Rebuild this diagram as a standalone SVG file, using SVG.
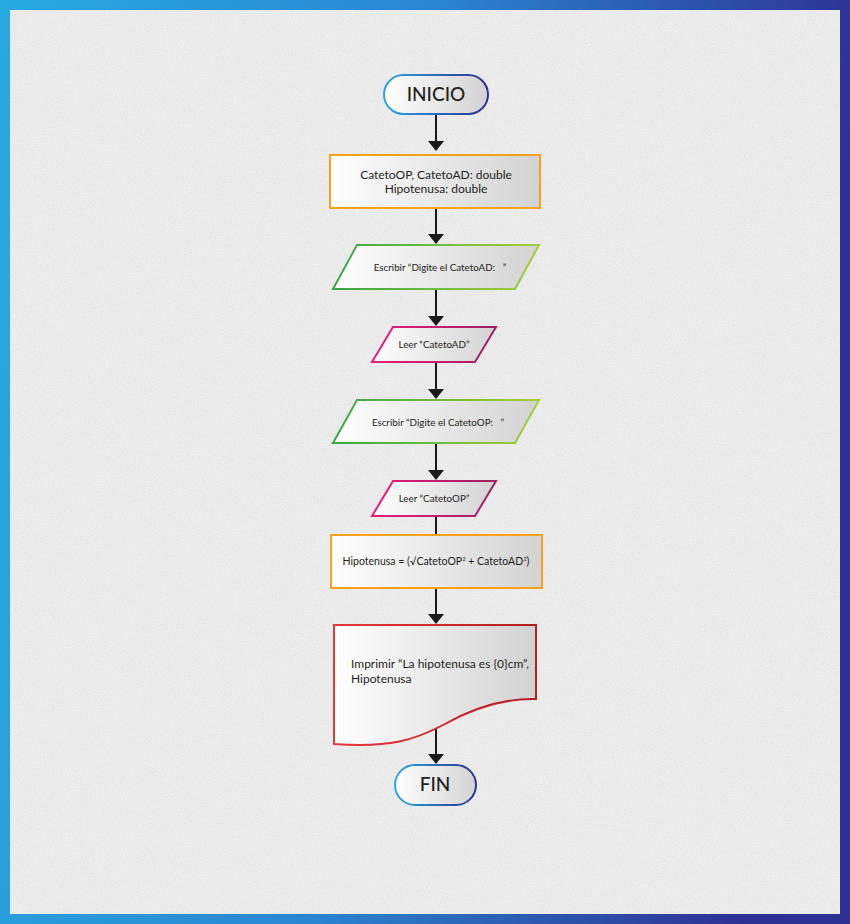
<svg xmlns="http://www.w3.org/2000/svg" width="850" height="924" viewBox="0 0 850 924">
<defs>
<linearGradient id="frame" x1="0" y1="0" x2="1" y2="0.15">
<stop offset="0" stop-color="#27aae1"/><stop offset="0.5" stop-color="#2a86cf"/><stop offset="1" stop-color="#2e3192"/>
</linearGradient>
<linearGradient id="fillg" x1="0" y1="0" x2="1" y2="0">
<stop offset="0" stop-color="#ffffff"/><stop offset="1" stop-color="#d3d3d3"/>
</linearGradient>
<linearGradient id="blueS" x1="0" y1="0" x2="1" y2="0">
<stop offset="0" stop-color="#29a9e1"/><stop offset="1" stop-color="#2e3192"/>
</linearGradient>
<linearGradient id="greenS" x1="0" y1="0" x2="1" y2="0">
<stop offset="0" stop-color="#39a844"/><stop offset="1" stop-color="#a6ce39"/>
</linearGradient>
<linearGradient id="pinkS" x1="0" y1="0" x2="1" y2="0">
<stop offset="0" stop-color="#ec1c7b"/><stop offset="1" stop-color="#9e1f63"/>
</linearGradient>
<linearGradient id="redS" x1="0" y1="0" x2="1" y2="0">
<stop offset="0" stop-color="#e8373c"/><stop offset="1" stop-color="#b41f24"/>
</linearGradient>
<filter id="noise" x="0" y="0" width="100%" height="100%">
<feTurbulence type="fractalNoise" baseFrequency="0.9" numOctaves="2" seed="3" result="t"/>
<feColorMatrix type="matrix" values="0 0 0 0 0.5  0 0 0 0 0.5  0 0 0 0 0.5  0 0 0 -1.6 1.05"/>
</filter>
<style>
.lbl{font-family:Lato,"Open Sans","Liberation Sans",sans-serif;fill:#231f20;text-anchor:middle;white-space:pre}
.big{font-size:19px;font-weight:500}
.mid{font-size:12px}
.sm{font-size:9.8px}
.conn line{stroke:#1a1a1a;stroke-width:2}
.conn path{fill:#1a1a1a}
</style>
</defs>
<rect x="0" y="0" width="850" height="924" fill="url(#frame)"/>
<rect x="10" y="10" width="830" height="904" fill="#eeeeee"/>
<rect x="10" y="10" width="830" height="904" filter="url(#noise)" opacity="0.25"/>

<g id="connectors" class="conn">
<line x1="436" y1="115" x2="436" y2="142"/><path d="M428,141 L444,141 L436,151 Z"/>
<line x1="436" y1="208" x2="436" y2="235"/><path d="M428,234 L444,234 L436,244 Z"/>
<line x1="436" y1="289" x2="436" y2="317"/><path d="M428,316 L444,316 L436,326 Z"/>
<line x1="436" y1="362" x2="436" y2="390"/><path d="M428,389 L444,389 L436,399 Z"/>
<line x1="436" y1="443" x2="436" y2="471"/><path d="M428,470 L444,470 L436,480 Z"/>
<line x1="436" y1="516" x2="436" y2="534"/>
<line x1="436" y1="588" x2="436" y2="615"/><path d="M428,614 L444,614 L436,624 Z"/>
<line x1="436" y1="728" x2="436" y2="755"/><path d="M428,754 L444,754 L436,764 Z"/>
</g>

<g id="inicio">
<rect x="384" y="75" width="104" height="39" rx="19.5" fill="url(#fillg)" stroke="url(#blueS)" stroke-width="2"/>
<text class="lbl big" x="436" y="101">INICIO</text>
</g>

<g id="decl">
<rect x="330" y="155" width="210" height="53" fill="url(#fillg)" stroke="#f7a21b" stroke-width="2"/>
<text class="lbl mid" x="436" y="179">CatetoOP, CatetoAD: double</text>
<text class="lbl mid" x="436" y="193">Hipotenusa: double</text>
</g>

<g id="escribirAD">
<polygon points="357,245 539,245 515,289 333,289" fill="url(#fillg)" stroke="url(#greenS)" stroke-width="2"/>
<text class="lbl sm" x="440" y="271" xml:space="preserve">Escribir “Digite el CatetoAD:   ”</text>
</g>

<g id="leerAD">
<polygon points="393,327 496,327 475,362 372,362" fill="url(#fillg)" stroke="url(#pinkS)" stroke-width="2"/>
<text class="lbl sm" x="434" y="348">Leer “CatetoAD”</text>
</g>

<g id="escribirOP">
<polygon points="357,400 539,400 515,443 333,443" fill="url(#fillg)" stroke="url(#greenS)" stroke-width="2"/>
<text class="lbl sm" x="438" y="426" xml:space="preserve">Escribir “Digite el CatetoOP:   ”</text>
</g>

<g id="leerOP">
<polygon points="393,481 496,481 475,516 372,516" fill="url(#fillg)" stroke="url(#pinkS)" stroke-width="2"/>
<text class="lbl sm" x="434" y="502">Leer “CatetoOP”</text>
</g>

<g id="calc">
<rect x="331" y="535" width="211" height="53" fill="url(#fillg)" stroke="#f7a21b" stroke-width="2"/>
<text class="lbl" x="436" y="565" style="font-size:10.5px">Hipotenusa = (√CatetoOP<tspan dy="-4" font-size="6">2</tspan><tspan dy="4"> + CatetoAD</tspan><tspan dy="-4" font-size="6">2</tspan><tspan dy="4">)</tspan></text>
</g>

<g id="imprimir">
<path d="M334,625 L536,625 L536,699 C500,698 470,710 445,724 C415,740 390,748 334,744 Z" fill="url(#fillg)" stroke="url(#redS)" stroke-width="2"/>
<text class="lbl mid" x="351" y="668" style="text-anchor:start">Imprimir “La hipotenusa es {0}cm”,</text>
<text class="lbl mid" x="351" y="683" style="text-anchor:start">Hipotenusa</text>
</g>

<g id="fin">
<rect x="395" y="765" width="81" height="40" rx="20" fill="url(#fillg)" stroke="url(#blueS)" stroke-width="2"/>
<text class="lbl big" x="435" y="791">FIN</text>
</g>
</svg>
